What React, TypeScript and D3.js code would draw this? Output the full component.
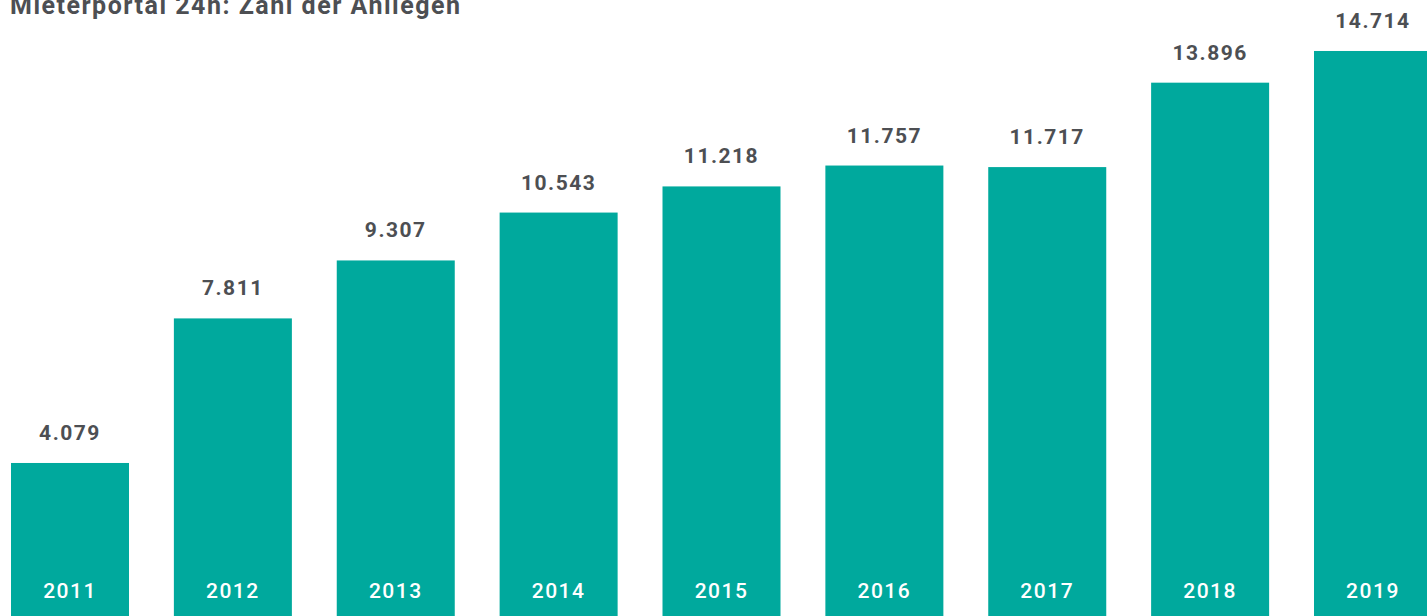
import * as d3 from "d3";
import { useEffect, useRef } from "react";

const years = ["2011", "2012", "2013", "2014", "2015", "2016", "2017", "2018", "2019"];
const values = [4079, 7811, 9307, 10543, 11218, 11757, 11717, 13896, 14714];
const title = "Mieterportal 24h: Zahl der Anliegen";

export default function App() {
    const ref = useRef<SVGSVGElement | null>(null);

    useEffect(() => {
        if (!ref.current) return;
        const svg = d3.select(ref.current);
        svg.selectAll("*").remove();

        const width = 1427;
        const height = 616;
        const baseline = 621; // bars run just past the bottom edge
        const font = "Roboto, 'Noto Sans', sans-serif";

        const x = d3
            .scaleBand<string>()
            .domain(years)
            .range([11, 1432])
            .paddingInner(0.2755)
            .paddingOuter(0);
        const y = d3.scaleLinear().domain([0, 16030]).range([baseline, 0]);

        svg.attr("width", width).attr("height", height);

        const fmt = (v: number) => d3.format(",")(v).replace(/,/g, ".");

        const g = svg.append("g");
        g.selectAll("rect")
            .data(values)
            .join("rect")
            .attr("x", (_, i) => x(years[i])!)
            .attr("y", (d) => y(d))
            .attr("width", x.bandwidth())
            .attr("height", (d) => baseline - y(d))
            .attr("fill", "#00A99D");

        g.selectAll("text.val")
            .data(values)
            .join("text")
            .attr("class", "val")
            .attr("x", (_, i) => x(years[i])! + x.bandwidth() / 2)
            .attr("y", (d) => y(d) - 23)
            .attr("text-anchor", "middle")
            .attr("font-family", font)
            .attr("font-size", 21)
            .attr("font-weight", "bold")
            .attr("letter-spacing", 1.5)
            .attr("fill", "#4d4f53")
            .text((d) => fmt(d));

        g.selectAll("text.year")
            .data(years)
            .join("text")
            .attr("class", "year")
            .attr("x", (d) => x(d)! + x.bandwidth() / 2)
            .attr("y", 598)
            .attr("text-anchor", "middle")
            .attr("font-family", font)
            .attr("font-size", 21)
            .attr("font-weight", 500)
            .attr("letter-spacing", 1.5)
            .attr("fill", "#ffffff")
            .text((d) => d);

        svg.append("text")
            .attr("x", 10)
            .attr("y", 14)
            .attr("font-family", font)
            .attr("font-size", 25)
            .attr("font-weight", "bold")
            .attr("letter-spacing", 1.5)
            .attr("fill", "#4d4f53")
            .text(title);
    }, []);

    return (
        <svg
            ref={ref}
            style={{ position: "absolute", left: 0, top: 0, display: "block", background: "#fff" }}
        ></svg>
    );
}
